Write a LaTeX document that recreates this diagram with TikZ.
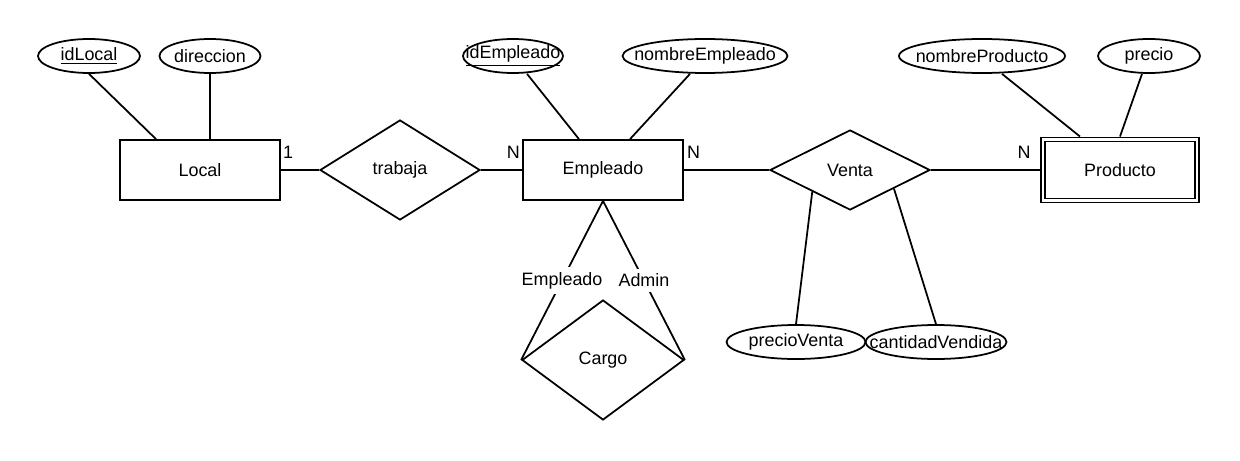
\documentclass[tikz,border=0pt]{standalone}
\usepackage{fontspec}
\setmainfont{Liberation Sans}
\usetikzlibrary{positioning,shapes.geometric}

\begin{document}
\begin{tikzpicture}[
  ent/.style ={draw, rectangle, line width=1pt, minimum width=3.2cm,
               minimum height=1.2cm, inner sep=0pt},
  went/.style={ent, double, double distance=1.4pt, outer sep=1.7pt,
               minimum width=3.08cm, minimum height=1.22cm},
  rel/.style ={draw, diamond, line width=1pt, aspect=2, inner sep=0pt,
               minimum width=3.2cm},
  attr/.style={draw, ellipse, line width=1pt, minimum height=0.68cm,
               inner xsep=-1cm, inner ysep=0pt},
  card/.style={inner sep=0pt},
  role/.style={midway, fill=white, inner xsep=1pt, inner ysep=0.1cm},
  lnk/.style ={line width=1pt},
  font=\fontsize{10.2}{12}\selectfont
]
\useasboundingbox (0,0) rectangle (24.8,9.2);

%% -- Local ------------------------------------------------------------
\node[ent] (local) at (4.00,5.80) {Local};
\node[attr, minimum width=2.04cm] (idlocal)   at (1.78,8.08) {\underline{idLocal}};
\node[attr, minimum width=2.02cm] (direccion) at (4.20,8.08) {direccion};

\draw[lnk] (idlocal.south) -- ([xshift=-0.88cm]local.north);
\draw[lnk] (direccion.south) -- (direccion.south |- local.north);

%% -- Empleado ---------------------------------------------------------
\node[ent] (emp) at (12.06,5.80) {Empleado};
\node[attr, minimum width=2.00cm] (idemp)  at (10.26,8.08) {\underline{idEmpleado}};
\node[attr, minimum width=3.30cm] (nomemp) at (14.10,8.08) {nombreEmpleado};

\draw[lnk] ([xshift=0.28cm]idemp.south) -- ([xshift=-0.48cm]emp.north);
\draw[lnk] ([xshift=-0.3cm]nomemp.south) -- ([xshift=0.54cm]emp.north);

%% -- trabaja ----------------------------------------------------------
\node[rel, minimum height=2.0cm] (trabaja) at (8.00,5.80) {trabaja};

\draw[lnk] (local.east) -- (trabaja.west);
\draw[lnk] (trabaja.east) -- (emp.west);

\node[card, above right=0.22cm and 0.04cm of local.east] (cLocal)  {1};
\node[card, above left=0.22cm and 0.04cm of emp.west]    (cEmpTr)  {N};

%% -- Cargo ------------------------------------------------------------
\node[rel, minimum width=3.24cm, minimum height=2.4cm] (cargo) at (12.06,2.00) {Cargo};

\draw[lnk] (emp.south) -- node[role]{Empleado} (cargo.west);
\draw[lnk] (emp.south) -- node[role]{Admin} (cargo.east);

%% -- Producto ---------------------------------------------------------
\node[went] (prod) at (22.40,5.80) {Producto};
\node[attr, minimum width=3.32cm] (nomprod) at (19.64,8.08) {nombreProducto};
\node[attr, minimum width=2.04cm] (precio)  at (22.98,8.08) {precio};

\draw[lnk] ([xshift=0.4cm]nomprod.south) -- ([xshift=-0.8cm]prod.north);
\draw[lnk] ([xshift=-0.14cm]precio.south) -- (prod.north);

%% -- Venta ------------------------------------------------------------
\node[rel, minimum height=1.6cm] (venta) at (17.00,5.80) {Venta};
\node[attr, minimum width=2.78cm] (pventa) at (15.92,2.36) {precioVenta};
\node[attr, minimum width=2.82cm] (cvend)  at (18.72,2.36) {cantidadVendida};

\draw[lnk] (emp.east) -- (venta.west);
\draw[lnk] (venta.east) -- (prod.west);
\draw[lnk] (venta.210) -- (pventa.north);
\draw[lnk] (venta.337) -- (cvend.north);

\node[card, above right=0.22cm and 0.06cm of emp.east] (cEmpVe)  {N};
\node[card, above left=0.22cm and 0.18cm of prod.west] (cProd)   {N};

\end{tikzpicture}
\end{document}
